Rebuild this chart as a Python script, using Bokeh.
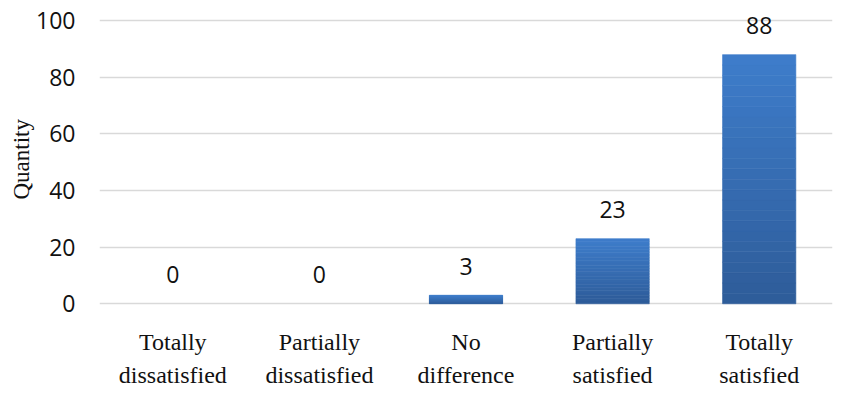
from bokeh.plotting import figure
from bokeh.models import Range1d, FactorRange, ColumnDataSource, Title, Label
from bokeh.core.properties import value
from bokeh.embed import file_html
from bokeh.resources import INLINE

categories = ["Totally dissatisfied", "Partially dissatisfied", "No difference",
              "Partially satisfied", "Totally satisfied"]
label_line1 = ["Totally", "Partially", "No", "Partially", "Totally"]
label_line2 = ["dissatisfied", "dissatisfied", "difference", "satisfied", "satisfied"]
quantities = [0, 0, 3, 23, 88]
y_ticks = [0, 20, 40, 60, 80, 100]

# the frame reaches below zero so that the two-line category labels can be drawn there
p = figure(x_range=FactorRange(*categories), y_range=Range1d(-31.7, 105),
           width=834, height=393, output_backend="svg", toolbar_location=None,
           min_border_left=99, min_border_right=2, min_border_top=6, min_border_bottom=0)
p.outline_line_color = None
p.background_fill_color = "white"

# gradient-like bars: stacked bands from bottom to top of each bar
N = 24
bottom_rgb = (0x2e, 0x5c, 0x99)
top_rgb = (0x3e, 0x7d, 0xcb)
xs, bots, tops, cols = [], [], [], []
for c, v in zip(categories, quantities):
    if v <= 0:
        continue
    for k in range(N):
        t = (k + 0.5) / N
        rgb = tuple(int(round(b + (tt - b) * t)) for b, tt in zip(bottom_rgb, top_rgb))
        xs.append(c)
        bots.append(v * k / N)
        tops.append(v * (k + 1) / N)
        cols.append("#%02x%02x%02x" % rgb)
src = ColumnDataSource(dict(x=xs, bottom=bots, top=tops, color=cols))
p.vbar(x="x", bottom="bottom", top="top", width=0.5, source=src,
       fill_color="color", line_color="color", line_width=0.6)

# value labels above the bars
lab = ColumnDataSource(dict(x=categories, y=quantities, t=[str(q) for q in quantities]))
p.text(x="x", y="y", text="t", source=lab, y_offset=-29,
       text_align="center", text_baseline="middle",
       text_font=value("Open Sans"), text_font_size="23px", text_color="#111111")

# category labels (two lines) below the baseline; a factor's centre on a
# categorical range is at synthetic coordinate index + 0.5
for i, (l1, l2) in enumerate(zip(label_line1, label_line2)):
    for txt, off in ((l1, -38), (l2, -71)):
        p.add_layout(Label(x=i + 0.5, y=0, text=txt, y_offset=off,
                           text_align="center", text_baseline="middle",
                           text_font="Liberation Serif", text_font_style="normal",
                           text_font_size="24px", text_color="#111111"))

# grid
p.xgrid.grid_line_color = None
p.ygrid.grid_line_color = "#d9d9d9"
p.ygrid.grid_line_width = 1.5
p.yaxis.ticker = y_ticks
p.xaxis.visible = False

# y axis
p.yaxis.axis_line_color = None
p.yaxis.major_tick_line_color = None
p.yaxis.minor_tick_line_color = None
p.yaxis.major_tick_out = 0
p.yaxis.major_label_standoff = 24
p.yaxis.major_label_text_font = "Open Sans"
p.yaxis.major_label_text_font_size = "23px"
p.yaxis.major_label_text_color = "#111111"

# y axis title, placed beside the 0-100 part of the axis
p.add_layout(Title(text="Quantity", align="left", offset=194, standoff=0,
                   text_font="Liberation Serif", text_font_style="normal",
                   text_font_size="23px", text_color="#111111"), "left")

open("out.html", "w").write(file_html(p, INLINE))
